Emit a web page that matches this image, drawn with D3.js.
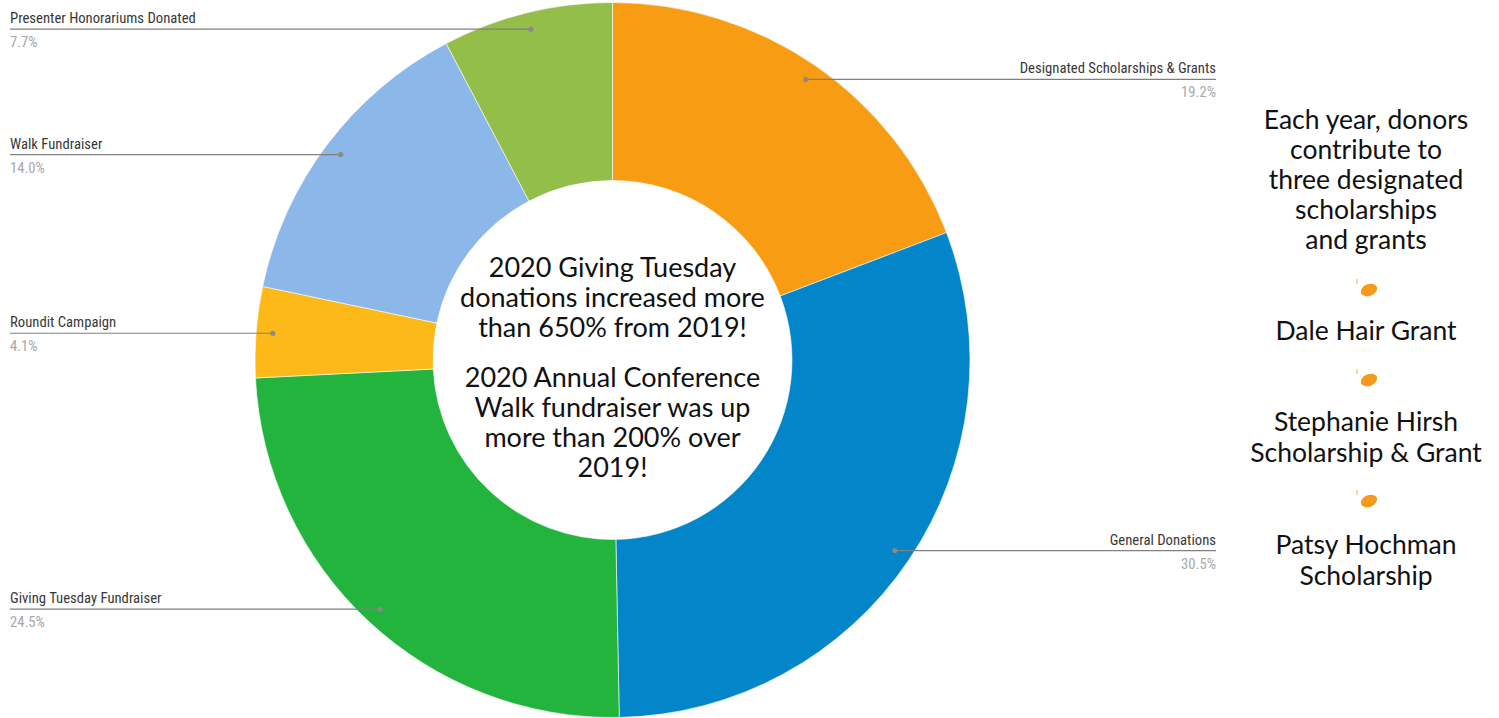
<!DOCTYPE html>
<html>
<head>
<meta charset="utf-8">
<script src="https://cdnjs.cloudflare.com/ajax/libs/d3/7.8.5/d3.min.js"></script>
<style>
  body { margin: 0; background: #fff; }
  svg { display: block; }
  .lbl { font-family: "Liberation Sans Narrow", "Arial Narrow", "Roboto Condensed", "Liberation Sans", sans-serif; font-size: 14.7px; }
  .big { font-family: Lato, "Noto Sans", sans-serif; font-size: 26.5px; fill: #111; }
  .mid { font-size: 27px; }
</style>
</head>
<body>
<script>
//data
var categories = ['Designated Scholarships & Grants', 'General Donations', 'Giving Tuesday Fundraiser',
  'Roundit Campaign', 'Walk Fundraiser', 'Presenter Honorariums Donated'];
var shares = [19.2, 30.5, 24.5, 4.1, 14.0, 7.7];
var sliceColors = ['#f89c13', '#0285c9', '#22b43d', '#fdb917', '#8bb7e9', '#93be4a'];

var centerLines = [
  ['2020 Giving Tuesday', 'donations increased more', 'than 650% from 2019!'],
  ['2020 Annual Conference', 'Walk fundraiser was up', 'more than 200% over', '2019!']
];
var introLines = ['Each year, donors', 'contribute to', 'three designated', 'scholarships', 'and grants'];
var scholarships = [['Dale Hair Grant'], ['Stephanie Hirsh', 'Scholarship & Grant'], ['Patsy Hochman', 'Scholarship']];

//settings
var settings = {
  width: 1499,
  height: 718,
  cx: 612.5,
  cy: 360,
  outer: 357.5,
  inner: 179.5,
  leftX: 10,
  rightX: 1216
};

var svg = d3.select('body').append('svg')
  .attr('width', settings.width)
  .attr('height', settings.height);

var pie = d3.pie().sort(null).value(function(d) { return d; });
var arcs = pie(shares);
var arc = d3.arc().innerRadius(settings.inner).outerRadius(settings.outer);
var dotArc = d3.arc().innerRadius(settings.outer * 0.953).outerRadius(settings.outer * 0.953);

var donut = svg.append('g').attr('transform', 'translate(' + settings.cx + ',' + settings.cy + ')');

donut.selectAll('path.slice')
  .data(arcs)
  .enter()
  .append('path')
  .attr('class', 'slice')
  .attr('d', arc)
  .attr('fill', function(d, i) { return sliceColors[i]; })
  .attr('stroke', '#fff')
  .attr('stroke-width', 0.6);

//leader lines and labels
var labels = svg.append('g');
arcs.forEach(function(d, i) {
  var c = dotArc.centroid(d);
  var x = settings.cx + c[0];
  var y = settings.cy + c[1];
  var mid = (d.startAngle + d.endAngle) / 2;
  var right = mid < Math.PI;
  var endX = right ? settings.rightX : settings.leftX;
  labels.append('line')
    .attr('x1', x).attr('y1', y)
    .attr('x2', endX).attr('y2', y)
    .attr('stroke', '#808080')
    .attr('stroke-width', 1.2);
  labels.append('circle')
    .attr('cx', x).attr('cy', y).attr('r', 2.6)
    .attr('fill', '#8a8a8a');
  labels.append('text')
    .attr('class', 'lbl')
    .attr('x', endX).attr('y', y - 6)
    .attr('text-anchor', right ? 'end' : 'start')
    .attr('fill', '#383838')
    .text(categories[i]);
  labels.append('text')
    .attr('class', 'lbl')
    .attr('x', endX).attr('y', y + 18)
    .attr('text-anchor', right ? 'end' : 'start')
    .attr('fill', '#a8a8a8')
    .text(shares[i].toFixed(1) + '%');
});

//center text
var centerTops = [268, 378];
var lineH = 29.7;
centerLines.forEach(function(block, b) {
  block.forEach(function(line, j) {
    svg.append('text')
      .attr('class', 'big mid')
      .attr('x', settings.cx)
      .attr('y', centerTops[b] + j * lineH)
      .attr('dy', '0.35em')
      .attr('text-anchor', 'middle')
      .text(line);
  });
});

//right side list
var sideX = 1366;
introLines.forEach(function(line, j) {
  svg.append('text')
    .attr('class', 'big')
    .attr('x', sideX).attr('y', 120 + j * 30)
    .attr('dy', '0.35em')
    .attr('text-anchor', 'middle')
    .text(line);
});

var bulletY = [290, 380, 501];
var itemY = [331, 422, 545];
scholarships.forEach(function(item, k) {
  var b = svg.append('g').attr('transform', 'translate(' + (sideX + 3) + ',' + bulletY[k] + ')');
  b.append('ellipse')
    .attr('rx', 8.5).attr('ry', 5.8)
    .attr('transform', 'rotate(-22)')
    .attr('fill', '#f7991a');
  b.append('line')
    .attr('x1', -12).attr('y1', -11)
    .attr('x2', -12).attr('y2', -6)
    .attr('stroke', '#f7a84a')
    .attr('stroke-width', 1);
  item.forEach(function(line, j) {
    svg.append('text')
      .attr('class', 'big')
      .attr('x', sideX).attr('y', itemY[k] + j * 31)
      .attr('dy', '0.35em')
      .attr('text-anchor', 'middle')
      .text(line);
  });
});
</script>
</body>
</html>
